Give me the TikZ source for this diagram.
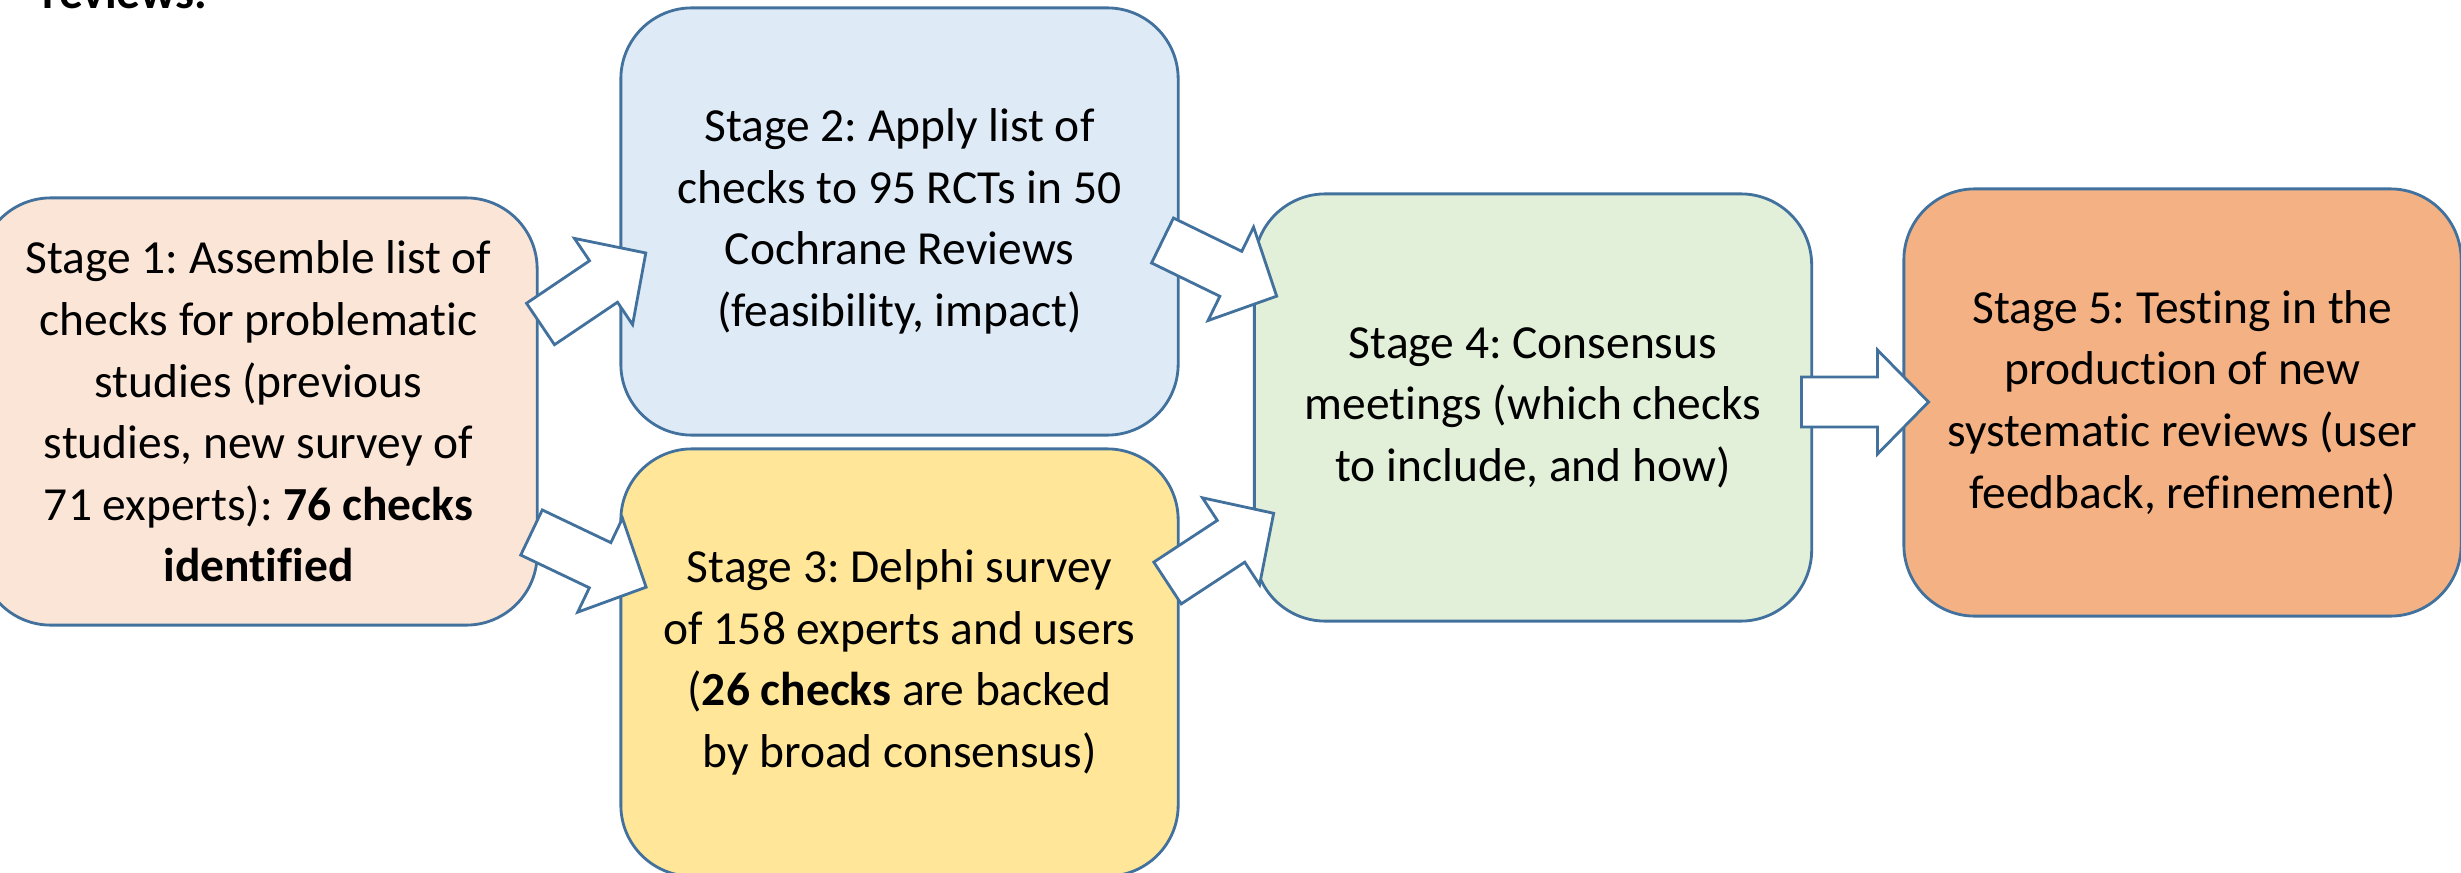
\documentclass[tikz,border=0pt]{standalone}
\usepackage{fontspec}
\setmainfont[Ligatures=NoCommon]{Carlito}
\frenchspacing
\definecolor{edge}{HTML}{41719C}
\definecolor{peach}{HTML}{FBE5D6}
\definecolor{skyblue}{HTML}{DEEBF7}
\definecolor{gold}{HTML}{FFE699}
\definecolor{mint}{HTML}{E2F0D9}
\definecolor{salmon}{HTML}{F4B183}
\begin{document}
\begin{tikzpicture}[x=0.01cm, y=-0.01cm,
  stagebox/.style={draw=edge, line width=0.8pt, rounded corners=0.71cm,
    minimum width=5.57cm, minimum height=4.27cm, align=center, inner sep=0pt,
    font=\fontsize{13.5}{17.5}\selectfont},
  arrowline/.style={draw=edge, fill=white, line width=0.8pt, line join=miter},
  blockarrow/.pic={
    \path[arrowline] (0,-25) -- (76,-25) -- (76,-52) -- (127,0) -- (76,52)
      -- (76,25) -- (0,25) -- cycle;
  }]
\useasboundingbox (0,0) rectangle (2461,873);

% heading line, mostly above the page
\node[anchor=base west, inner sep=0pt, font=\fontsize{13.5}{17.5}\selectfont\bfseries]
  (heading) at (42,9) {reviews.};

% the five stages
\node[stagebox, fill=peach] (s1) at (258.5,411.5)
  {Stage 1: Assemble list of\\checks for problematic\\studies (previous\\studies, new survey of\\71 experts): \textbf{76 checks}\\\textbf{identified}};
\node[stagebox, fill=skyblue] (s2) at (899.5,221.5)
  {Stage 2: Apply list of\\checks to 95 RCTs in 50\\Cochrane Reviews\\(feasibility, impact)};
\node[stagebox, fill=gold] (s3) at (899.5,662.5)
  {Stage 3: Delphi survey\\of 158 experts and users\\(\textbf{26 checks} are backed\\by broad consensus)};
\node[stagebox, fill=mint] (s4) at (1533,407.5)
  {Stage 4: Consensus\\meetings (which checks\\to include, and how)};
\node[stagebox, fill=salmon] (s5) at (2182.5,402.5)
  {Stage 5: Testing in the\\production of new\\systematic reviews (user\\feedback, refinement)};

% block arrows between the stages (tail midpoints)
\coordinate (t12) at (540.5,324);
\coordinate (t13) at (531.5,532.5);
\coordinate (t24) at (1162.5,240.5);
\coordinate (t34) at (1167.5,583);
\coordinate (t45) at (1801.5,402);
\pic (a12) [rotate=34] at (t12) {blockarrow};
\pic (a13) [rotate=-25.5] at (t13) {blockarrow};
\pic (a24) [rotate=-26] at (t24) {blockarrow};
\pic (a34) [rotate=33.3] at (t34) {blockarrow};
\pic (a45) at (t45) {blockarrow};
\end{tikzpicture}
\end{document}
